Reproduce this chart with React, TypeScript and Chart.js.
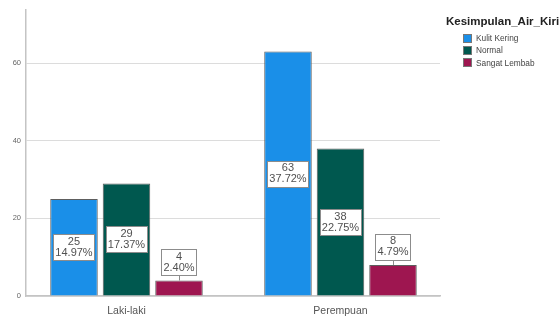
import React, { useEffect, useRef } from "react";
import { Chart, registerables } from "chart.js";

Chart.register(...registerables);

const categories = ["Laki-laki", "Perempuan"];
const seriesNames = ["Kulit Kering", "Normal", "Sangat Lembab"];
const kulitKering = [25, 63];
const normal = [29, 38];
const sangatLembab = [4, 8];
const seriesValues = [kulitKering, normal, sangatLembab];
const seriesColors = ["#1a8fe8", "#00584f", "#9e1650"];
const yTicks = [0, 20, 40, 60];
const legendTitle = "Kesimpulan_Air_Kiri";

const FONT = '"Liberation Sans", Arial, sans-serif';
const total = seriesValues.reduce((s, arr) => s + arr.reduce((a, b) => a + b, 0), 0);

const labelPlugin = {
  id: "boxLabels",
  afterDatasetsDraw(chart: any) {
    const ctx = chart.ctx;
    ctx.save();
    ctx.font = `11px ${FONT}`;
    ctx.textAlign = "center";
    ctx.textBaseline = "middle";
    chart.data.datasets.forEach((_ds: any, di: number) => {
      const meta = chart.getDatasetMeta(di);
      meta.data.forEach((bar: any, i: number) => {
        const v = seriesValues[di][i];
        const lines = [String(v), ((v / total) * 100).toFixed(2) + "%"];
        const w = Math.round(Math.max(...lines.map((l) => ctx.measureText(l).width)) + 4);
        const h = 26;
        const x = bar.x;
        const top = bar.y;
        const base = bar.base;
        const barH = base - top;
        let cy: number;
        if (barH >= h + 10) {
          cy = (top + base) / 2;
        } else {
          cy = top - 5 - h / 2;
          ctx.strokeStyle = "#8c8c8c";
          ctx.lineWidth = 1;
          ctx.beginPath();
          ctx.moveTo(Math.round(x) + 0.5, cy + h / 2);
          ctx.lineTo(Math.round(x) + 0.5, top);
          ctx.stroke();
        }
        const bx = Math.round(x - w / 2) + 0.5;
        const by = Math.round(cy - h / 2) + 0.5;
        ctx.fillStyle = "#ffffff";
        ctx.fillRect(bx, by, w, h);
        ctx.strokeStyle = "#8c8c8c";
        ctx.lineWidth = 1;
        ctx.strokeRect(bx, by, w, h);
        ctx.fillStyle = "#505050";
        ctx.fillText(lines[0], x, cy - 5.5);
        ctx.fillText(lines[1], x, cy + 5.5);
      });
    });
    ctx.restore();
  },
};

export default function App() {
  const ref = useRef<HTMLCanvasElement>(null);
  useEffect(() => {
    if (!ref.current) return;
    const chart = new Chart(ref.current, {
      type: "bar",
      data: {
        datasets: seriesNames.map((name, di) => ({
          label: name,
          data: seriesValues[di].map((v, i) => ({ x: i, y: v })),
          backgroundColor: seriesColors[di],
          borderColor: "#5e5e5e",
          borderWidth: 1,
          categoryPercentage: 0.736,
          barPercentage: 0.905,
        })),
      },
      options: {
        responsive: false,
        animation: false,
        layout: { padding: { top: 10, right: 120, left: 0, bottom: 0 } },
        plugins: { legend: { display: false }, tooltip: { enabled: false } },
        scales: {
          x: {
            type: "linear",
            min: -0.4696,
            max: 1.465,
            offset: false,
            grid: { display: false, offset: false },
            border: { display: true, color: "#c4c4c4", width: 1.5 },
            afterBuildTicks: (scale: any) => {
              scale.ticks = categories.map((_, i) => ({ value: i }));
            },
            afterFit: (scale: any) => {
              scale.height = 20;
            },
            ticks: {
              autoSkip: false,
              maxRotation: 0,
              padding: 1,
              color: "#555555",
              font: { family: FONT, size: 10.5 },
              callback: (v: any) => categories[v as number] ?? "",
            },
          },
          y: {
            type: "linear",
            min: 0,
            max: 73.7,
            grid: { color: "#dcdcdc", lineWidth: 1, drawTicks: false },
            border: { display: true, color: "#c4c4c4", width: 1.5 },
            afterBuildTicks: (scale: any) => {
              scale.ticks = yTicks.map((v) => ({ value: v }));
            },
            afterFit: (scale: any) => {
              scale.width = 26;
            },
            ticks: {
              padding: 5,
              color: "#666666",
              font: { family: FONT, size: 7.5 },
            },
          },
        },
      },
      plugins: [labelPlugin],
    } as any);
    return () => chart.destroy();
  }, []);

  return (
    <div style={{ position: "fixed", left: 0, top: 0, width: 560, height: 316, background: "#fff" }}>
      <canvas ref={ref} width={560} height={316} style={{ display: "block" }} />
      <div
        style={{
          position: "absolute",
          left: 446,
          top: 15,
          fontFamily: FONT,
          fontWeight: "bold",
          fontSize: 11.5,
          lineHeight: "13px",
          color: "#222",
          whiteSpace: "nowrap",
        }}
      >
        {legendTitle}
      </div>
      {seriesNames.map((name, i) => (
        <div
          key={name}
          style={{
            position: "absolute",
            left: 463,
            top: 32 + i * 12.3,
            height: 12,
            display: "flex",
            alignItems: "center",
            fontFamily: FONT,
            fontSize: 8.3,
            color: "#444",
            whiteSpace: "nowrap",
          }}
        >
          <span
            style={{
              display: "inline-block",
              width: 7,
              height: 7,
              background: seriesColors[i],
              border: "1px solid #777",
              marginRight: 4,
            }}
          />
          {name}
        </div>
      ))}
    </div>
  );
}
